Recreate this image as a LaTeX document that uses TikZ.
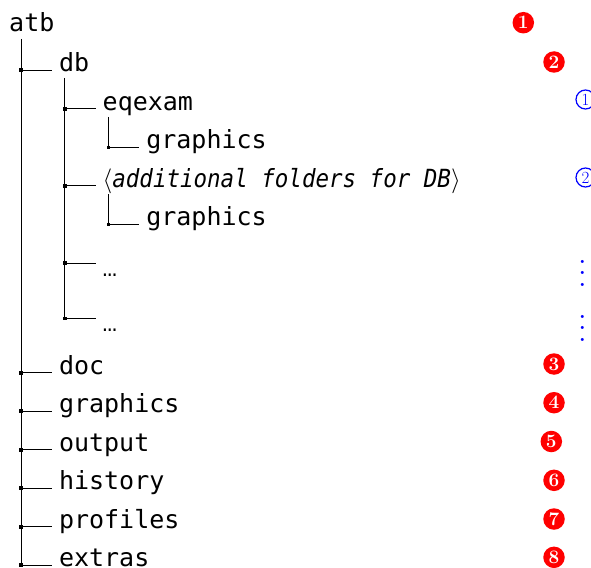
\documentclass[tikz,border=0pt]{standalone}
\usepackage{fontspec}
\newfontfamily\treefont{DejaVu Sans Mono}
\newfontfamily\dotfont{Liberation Mono}
\begin{document}
\begin{tikzpicture}[x=1pt,y=-1pt,
  treeline/.style={line width=0.8pt},
  junction/.style={fill=black, inner sep=0pt, minimum size=3.6pt},
  entry/.style={anchor=base west, inner sep=0pt, outer xsep=7pt, outer ysep=0pt,
    font=\treefont\fontsize{25}{30}\selectfont},
  filledmark/.style={circle, fill=red, inner sep=0pt, minimum size=21.5pt, text=white,
    font=\fontsize{19}{19}\selectfont\bfseries},
  openmark/.style={circle, draw=blue, line width=1.2pt, inner sep=0pt, minimum size=19pt,
    text=blue, font=\fontsize{17}{17}\selectfont},
  moremark/.style={inner sep=0pt, text=blue},
]
\useasboundingbox (0,0) rectangle (591,567);

% root
\node[anchor=base west, inner sep=0pt, font=\treefont\fontsize{25}{30}\selectfont] (atb) at (9,32) {atb};

% junction points
\coordinate (trunk-top) at (21,39);
\coordinate (j-db)      at (21,70.3);
\coordinate (db-top)    at (64.7,78);
\coordinate (j-eqexam)  at (64.7,108.8);
\coordinate (eq-top)    at (108.3,117);
\coordinate (j-gra)     at (108.3,147.3);
\coordinate (j-add)     at (64.7,185.8);
\coordinate (add-top)   at (108.3,194);
\coordinate (j-grb)     at (108.3,224.3);
\coordinate (j-dota)    at (64.7,263);
\coordinate (j-dotb)    at (64.7,318.3);
\coordinate (j-doc)     at (21,372.7);
\coordinate (j-grc)     at (21,411.2);
\coordinate (j-out)     at (21,449.7);
\coordinate (j-hist)    at (21,488.2);
\coordinate (j-prof)    at (21,526.7);
\coordinate (j-extr)    at (21,565.2);

% entries
\node[entry] (db)     at (52,71.8)    {db};
\node[entry] (eqexam) at (95.7,110.3) {eqexam};
\node[entry] (gra)    at (139.3,148.8) {graphics};
\node[entry] (add)    at (95.7,187.3)
  {$\langle$\scalebox{0.9}[1]{\itshape additional folders for DB}$\rangle$};
\node[entry] (grb)    at (139.3,225.8) {graphics};
\node[entry, font=\dotfont\fontsize{24}{28}\selectfont] (dota) at (95.7,276.5) {…};
\node[entry, font=\dotfont\fontsize{24}{28}\selectfont] (dotb) at (95.7,331.8) {…};
\node[entry] (doc)    at (52,374.2)   {doc};
\node[entry] (grc)    at (52,412.7)   {graphics};
\node[entry] (out)    at (52,451.2)   {output};
\node[entry] (hist)   at (52,489.7)   {history};
\node[entry] (prof)   at (52,528.2)   {profiles};
\node[entry] (extr)   at (52,566.5)   {extras};

% vertical rules
\draw[treeline] (trunk-top) -- (j-extr);
\draw[treeline] (db-top) -- (j-dotb);
\draw[treeline] (eq-top) -- (j-gra);
\draw[treeline] (add-top) -- (j-grb);

% horizontal rules
\draw[treeline] (j-db)     -- (j-db -| db.west);
\draw[treeline] (j-eqexam) -- (j-eqexam -| eqexam.west);
\draw[treeline] (j-gra)    -- (j-gra -| gra.west);
\draw[treeline] (j-add)    -- (j-add -| add.west);
\draw[treeline] (j-grb)    -- (j-grb -| grb.west);
\draw[treeline] (j-dota)   -- (j-dota -| dota.west);
\draw[treeline] (j-dotb)   -- (j-dotb -| dotb.west);
\draw[treeline] (j-doc)    -- (j-doc -| doc.west);
\draw[treeline] (j-grc)    -- (j-grc -| grc.west);
\draw[treeline] (j-out)    -- (j-out -| out.west);
\draw[treeline] (j-hist)   -- (j-hist -| hist.west);
\draw[treeline] (j-prof)   -- (j-prof -| prof.west);
\draw[treeline] (j-extr)   -- (j-extr -| extr.west);

% junction dots
\foreach \j in {db,eqexam,gra,add,grb,dota,dotb,doc,grc,out,hist,prof,extr}
  \node[junction] (sq-\j) at (j-\j) {};

% numbered marks
\node[filledmark] (m1) at (523.3,22.7) {1};
\node[filledmark] (m2) at (554,62)     {2};
\node[openmark]   (o1) at (585.5,99.5)   {1};
\node[openmark]   (o2) at (585.5,177.5)  {2};
\node[moremark]   (v1) at (582.3,264.5) {\scalebox{2.9}{$\vdots$}};
\node[moremark]   (v2) at (582.3,319.5) {\scalebox{2.9}{$\vdots$}};
\node[filledmark] (m3) at (554,364)    {3};
\node[filledmark] (m4) at (554,402.7)  {4};
\node[filledmark] (m5) at (551.3,441.5) {5};
\node[filledmark] (m6) at (554,480.3)  {6};
\node[filledmark] (m7) at (554,519)    {7};
\node[filledmark] (m8) at (554,557.3)  {8};
\end{tikzpicture}
\end{document}
